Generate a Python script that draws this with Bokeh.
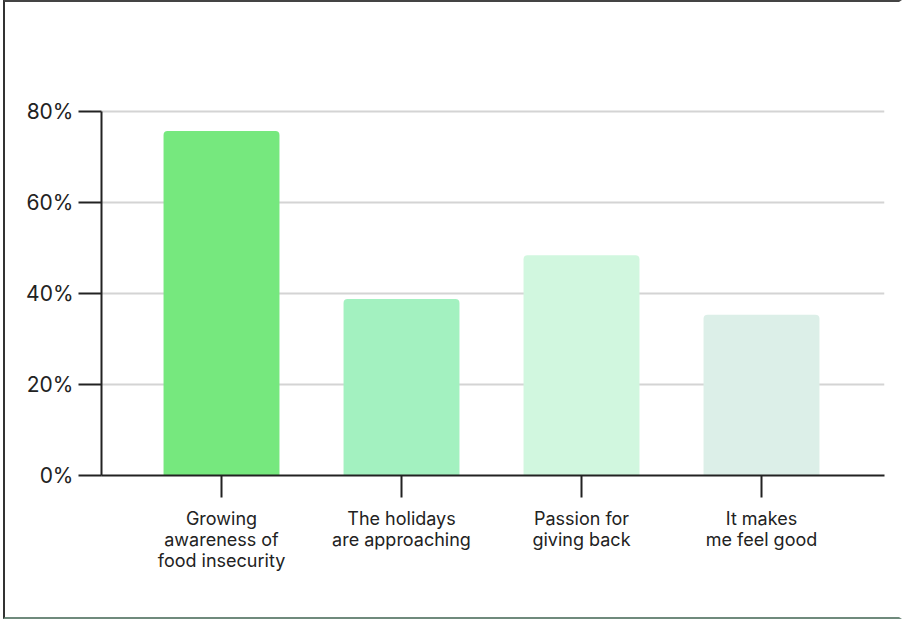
from bokeh.plotting import figure
from bokeh.models import FixedTicker, Range1d
from bokeh.embed import file_html
from bokeh.resources import INLINE

categories = ["Growing\nawareness of\nfood insecurity",
              "The holidays\nare approaching",
              "Passion for\ngiving back",
              "It makes\nme feel good"]
values = [75.7, 38.8, 48.4, 35.3]
colors = ["#76E87E", "#A3F1C0", "#D1F7DF", "#DCEFE8"]
y_ticks = [0, 20, 40, 60, 80]
y_tick_labels = ["0%", "20%", "40%", "60%", "80%"]

xs = list(range(1, len(categories) + 1))

p = figure(width=899, height=619, output_backend="svg", toolbar_location=None,
           x_range=Range1d(0.3333, 4.6833), y_range=Range1d(0, 91.2),
           min_border_left=96, min_border_right=20, min_border_top=58, min_border_bottom=146,
           styles={"margin-left": "3px",
                   "border-left": "2px solid #333", "border-top": "2px solid #444",
                   "border-bottom": "2px solid #6f8a7c", "border-right": "3px solid #ffffff",
                   "outline": "none", "box-shadow": "none"})
p.outline_line_color = None
p.background_fill_color = "white"
p.border_fill_color = "white"

p.vbar(x=xs, top=values, width=0.644, bottom=0, color=colors, line_color=None,
       border_radius=(4, 4, 0, 0))

font = "Inter"
# y axis
ya = p.yaxis[0]
ya.ticker = FixedTicker(ticks=y_ticks)
ya.major_label_overrides = {t: l for t, l in zip(y_ticks, y_tick_labels)}
ya.bounds = (0, 80)
ya.axis_line_color = "#222222"
ya.axis_line_width = 2
ya.major_tick_line_color = "#222222"
ya.major_tick_line_width = 2
ya.major_tick_out = 23
ya.major_tick_in = 0
ya.minor_tick_line_color = None
ya.major_label_standoff = 5
ya.major_label_text_font = font
ya.major_label_text_font_size = "21px"
ya.major_label_text_color = "#222222"

# x axis
xa = p.xaxis[0]
xa.ticker = FixedTicker(ticks=xs)
xa.major_label_overrides = {x: c for x, c in zip(xs, categories)}
xa.axis_line_color = "#222222"
xa.axis_line_width = 2
xa.major_tick_line_color = "#222222"
xa.major_tick_line_width = 2
xa.major_tick_out = 22
xa.major_tick_in = 0
xa.minor_tick_line_color = None
xa.major_label_standoff = 10
xa.major_label_text_font = font
xa.major_label_text_font_size = "18px"
xa.major_label_text_color = "#222222"
xa.major_label_text_line_height = 1.0

p.xgrid.grid_line_color = None
p.ygrid.ticker = FixedTicker(ticks=[20, 40, 60, 80])
p.ygrid.grid_line_color = "#D4D4D4"
p.ygrid.grid_line_width = 2

open("out.html", "w").write(file_html(p, INLINE))
